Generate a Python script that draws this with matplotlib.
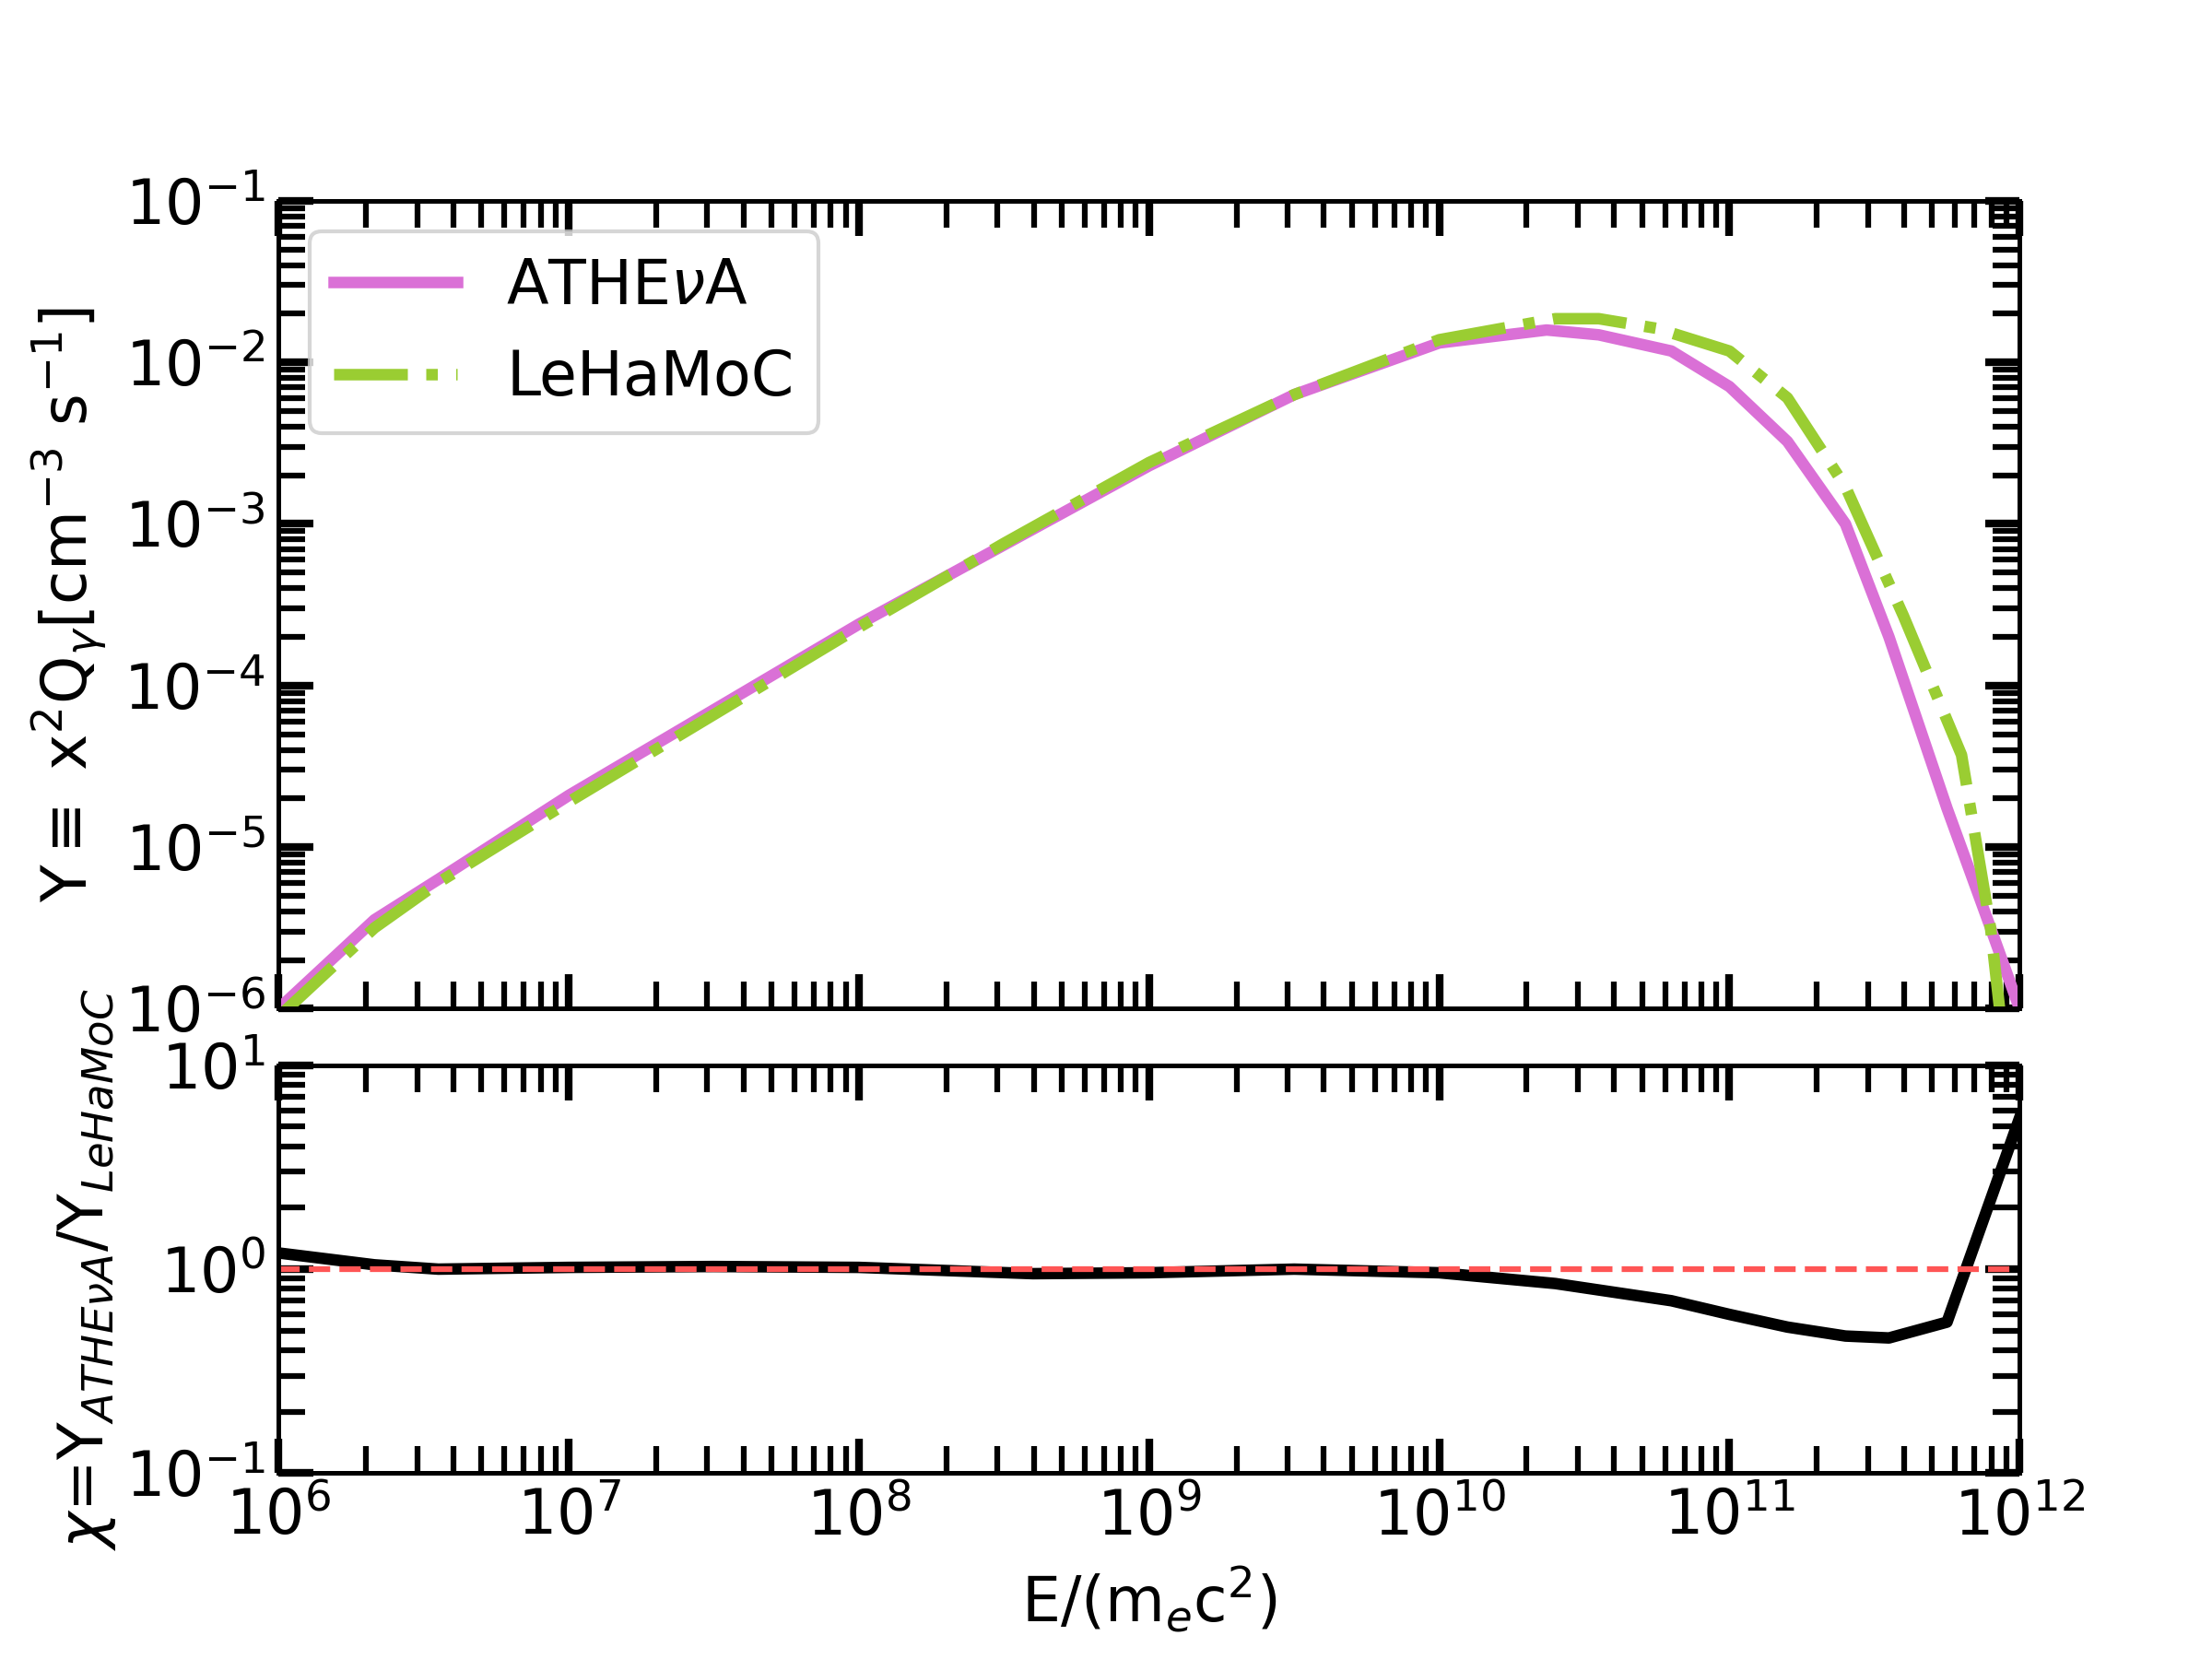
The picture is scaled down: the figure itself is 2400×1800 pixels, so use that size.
import numpy as np
import matplotlib.pyplot as plt

# log10 energy and log10 Y
logx_ath = [6.0, 6.33, 6.55, 7.0, 7.5, 8.0, 8.5, 9.0, 9.5, 10.0, 10.37, 10.55, 10.8, 11.0, 11.2, 11.4, 11.55, 11.75, 11.9, 12.0]
logy_ath = [-6.0, -5.45, -5.2, -4.68, -4.15, -3.62, -3.13, -2.64, -2.2, -1.88, -1.8, -1.83, -1.93, -2.15, -2.49, -3.0, -3.7, -4.76, -5.5, -6.0]
logx_leh = [6.0, 6.33, 6.55, 7.0, 7.5, 8.0, 8.5, 9.0, 9.5, 10.0, 10.4, 10.55, 10.75, 11.0, 11.2, 11.4, 11.6, 11.8, 11.9, 11.95]
logy_leh = [-6.05, -5.5, -5.22, -4.72, -4.18, -3.64, -3.12, -2.62, -2.2, -1.86, -1.73, -1.73, -1.79, -1.93, -2.22, -2.77, -3.57, -4.43, -5.5, -6.3]
logx_ratio = [6.0, 6.33, 6.55, 7.0, 7.5, 8.0, 8.6, 9.0, 9.5, 10.0, 10.4, 10.8, 11.0, 11.2, 11.4, 11.55, 11.75, 12.0]
ratio = [1.2, 1.05, 1.0, 1.02, 1.03, 1.02, 0.95, 0.96, 1.0, 0.96, 0.85, 0.7, 0.6, 0.52, 0.47, 0.46, 0.55, 5.5]

plt.rcParams['font.size'] = 16

fig = plt.figure(figsize=(8, 6), dpi=300)
ax1 = fig.add_axes([0.126, 0.392, 0.787, 0.487])
ax2 = fig.add_axes([0.126, 0.112, 0.787, 0.246])

ax1.plot(10**np.array(logx_ath), 10**np.array(logy_ath), color='orchid', lw=3, label=r'ATHE$\nu$A')
ax1.plot(10**np.array(logx_leh), 10**np.array(logy_leh), color='yellowgreen', lw=3, ls='-.', label='LeHaMoC')
ax1.set_xscale('log'); ax1.set_yscale('log')
ax1.set_xlim(1e6, 1e12); ax1.set_ylim(1e-6, 1e-1)
ax1.set_xticklabels([])
ax1.set_ylabel(r'Y$\equiv$ x$^2$Q$_\gamma$[cm$^{-3}$ s$^{-1}$]')
ax1.legend(loc='upper left', fontsize=16)

ax2.plot(10**np.array(logx_ratio), ratio, color='black', lw=3)
ax2.axhline(1, color='#ff5555', ls='--', lw=1.5)
ax2.set_xscale('log'); ax2.set_yscale('log')
ax2.set_xlim(1e6, 1e12); ax2.set_ylim(0.1, 10)
ax2.set_xlabel(r'E/(m$_e$c$^2$)')
ax2.set_ylabel(r'$\chi$=Y$_{ATHE\nu A}$/Y$_{LeHaMoC}$', labelpad=2)

for ax in (ax1, ax2):
    ax.xaxis.set_major_locator(plt.matplotlib.ticker.LogLocator(base=10, numticks=20))
    ax.xaxis.set_minor_locator(plt.matplotlib.ticker.LogLocator(base=10, subs=np.arange(2, 10), numticks=20))
    ax.yaxis.set_minor_locator(plt.matplotlib.ticker.LogLocator(base=10, subs=np.arange(2, 10), numticks=20))
    ax.tick_params(which='major', direction='in', length=9, width=2, top=True, right=True)
    ax.tick_params(which='minor', direction='in', length=7, width=1.5, top=True, right=True)
    for s in ax.spines.values():
        s.set_linewidth(1.2)

fig.savefig('out.png')
